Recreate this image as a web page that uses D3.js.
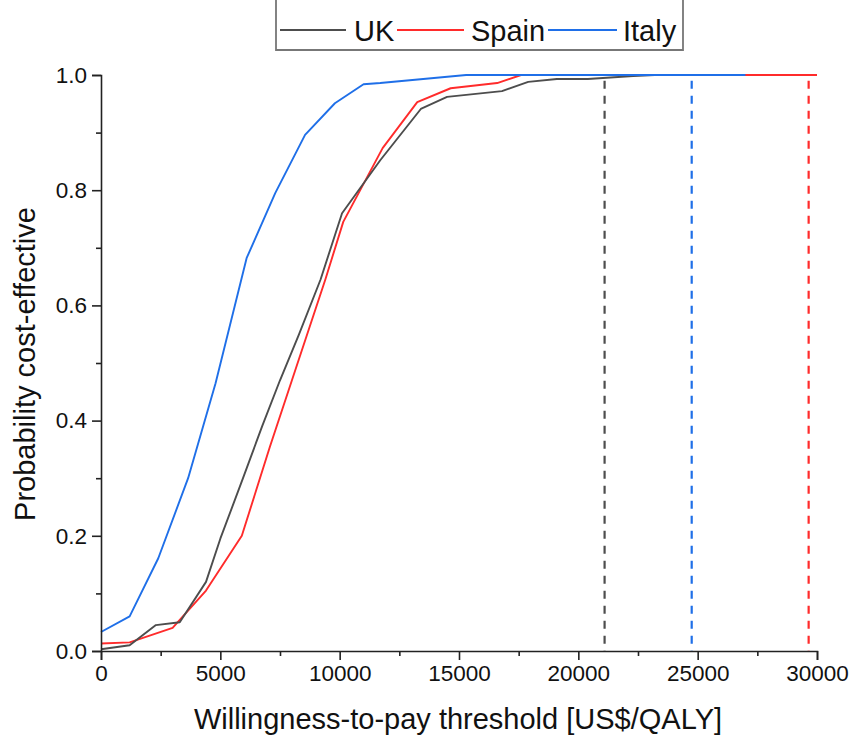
<!DOCTYPE html>
<html><head><meta charset="utf-8">
<script src="https://cdn.jsdelivr.net/npm/d3@7"></script>
<style>body{margin:0;background:#fff}svg{display:block;font-family:"Liberation Sans",Arial,sans-serif}</style>
</head><body>
<svg id="c" width="853" height="744"></svg>
<script>
const ukX    = [0,1200,2300,3300,4400,5000,5950,6750,7500,8300,9200,10100,11700,13400,14500,16800,17900,19100,20400,21500,22300,23200];
const ukY    = [0.003,0.01,0.045,0.05,0.12,0.195,0.30,0.39,0.47,0.55,0.645,0.76,0.852,0.941,0.962,0.972,0.988,0.993,0.993,0.996,0.998,1.0];
const spainX = [0,1200,3000,4400,5900,7080,8000,9400,10150,11800,13250,14650,16600,17600,20000,25000,30000];
const spainY = [0.013,0.015,0.04,0.105,0.20,0.355,0.47,0.645,0.745,0.873,0.953,0.977,0.986,1.0,1.0,1.0,1.0];
const italyX = [0,1200,2400,3650,4800,6100,7300,8550,9800,11000,11700,13500,15300,18000,22000,27000];
const italyY = [0.033,0.06,0.161,0.30,0.465,0.682,0.795,0.896,0.951,0.984,0.986,0.993,1.0,1.0,1.0,1.0];
const thresholds = [{name:"UK",x:21100},{name:"Italy",x:24750},{name:"Spain",x:29650}];
const seriesNames = ["UK","Spain","Italy"];
const colors = {UK:"#4d4d4d",Spain:"#ff2b2b",Italy:"#1f6fe8"};
const xTicks = [0,5000,10000,15000,20000,25000,30000];
const yTicks = [0,0.2,0.4,0.6,0.8,1.0];

const svg = d3.select("#c");
const x = d3.scaleLinear().domain([0,30000]).range([101,817]);
const y = d3.scaleLinear().domain([0,1]).range([651,75]);

const data = {
  UK: ukX.map((v,i)=>[v,ukY[i]]),
  Spain: spainX.map((v,i)=>[v,spainY[i]]),
  Italy: italyX.map((v,i)=>[v,italyY[i]])
};
const line = d3.line().x(d=>x(d[0])).y(d=>y(d[1]));

thresholds.forEach(t=>{
  svg.append("line").attr("x1",x(t.x)).attr("x2",x(t.x))
    .attr("y1",y(0.99)).attr("y2",y(0))
    .attr("stroke",colors[t.name]).attr("stroke-width",2.2)
    .attr("stroke-dasharray","8,7");
});

["Spain","UK","Italy"].forEach(n=>{
  svg.append("path").datum(data[n]).attr("d",line)
    .attr("fill","none").attr("stroke",colors[n]).attr("stroke-width",1.9)
    .attr("stroke-linejoin","round");
});

const xAxis = svg.append("g").attr("transform","translate(0,651)")
  .call(d3.axisBottom(x).tickValues(xTicks).tickFormat(d3.format("d")).tickSize(9).tickPadding(5));
const xMinor = svg.append("g").attr("transform","translate(0,651)")
  .call(d3.axisBottom(x).tickValues(d3.range(2500,30000,5000)).tickFormat("").tickSize(5));
const yAxis = svg.append("g").attr("transform","translate(101,0)")
  .call(d3.axisLeft(y).tickValues(yTicks).tickFormat(d3.format(".1f")).tickSize(9).tickPadding(5));
const yMinor = svg.append("g").attr("transform","translate(101,0)")
  .call(d3.axisLeft(y).tickValues([0.1,0.3,0.5,0.7,0.9]).tickFormat("").tickSize(5));
[xAxis,xMinor,yAxis,yMinor].forEach(g=>{
  g.select(".domain").attr("stroke","#222").attr("stroke-width",1.6);
  g.selectAll(".tick line").attr("stroke","#222").attr("stroke-width",1.6);
  g.selectAll(".tick text").attr("font-size",22.5).attr("fill","#111")
   .attr("font-family","'Liberation Sans',Arial,sans-serif");
});
xMinor.select(".domain").remove(); yMinor.select(".domain").remove();

svg.append("text").attr("x",458).attr("y",729).attr("text-anchor","middle")
  .attr("font-size",29).attr("fill","#111").text("Willingness-to-pay threshold [US$/QALY]");
svg.append("text").attr("transform","translate(35,364) rotate(-90)").attr("text-anchor","middle")
  .attr("font-size",29).attr("fill","#111").text("Probability cost-effective");

const lg = svg.append("g");
lg.append("path").attr("d","M276,-2 V50 H683 V-2").attr("fill","none").attr("stroke","#777").attr("stroke-width",1.8);
const items = [{n:"UK",lx:280,l:66,tx:354},{n:"Spain",lx:397,l:67,tx:471},{n:"Italy",lx:548,l:69,tx:623}];
items.forEach(it=>{
  lg.append("line").attr("x1",it.lx).attr("x2",it.lx+it.l).attr("y1",30).attr("y2",30)
    .attr("stroke",colors[it.n]).attr("stroke-width",1.9);
  lg.append("text").attr("x",it.tx).attr("y",41).attr("font-size",29).attr("fill","#111").text(it.n);
});
</script>
</body></html>
